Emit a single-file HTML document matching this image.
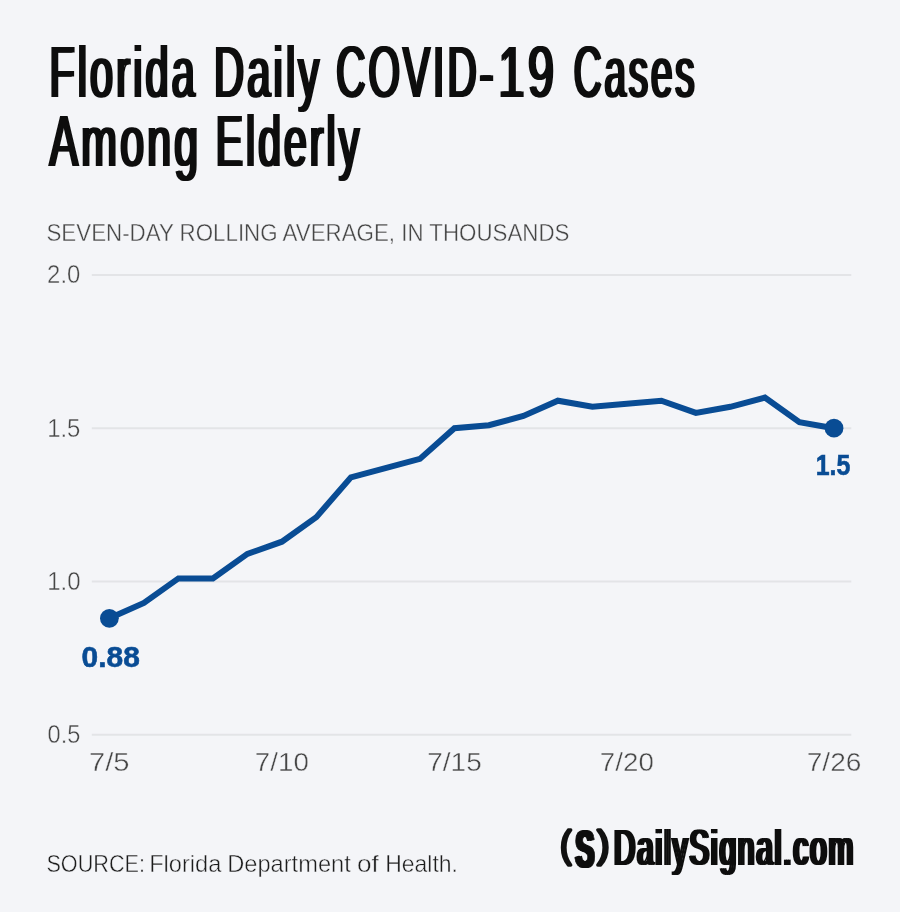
<!DOCTYPE html>
<html lang="en"><head><meta charset="utf-8"><title>Florida Daily COVID-19 Cases Among Elderly</title>
<style>
html,body{margin:0;padding:0;background:#f4f5f8;}
body{width:900px;height:912px;overflow:hidden;font-family:"Liberation Sans",sans-serif;}
svg{display:block}
text{font-family:"Liberation Sans",sans-serif}
.t{font-weight:400;fill:#111;font-size:72.5px;filter:url(#hx);letter-spacing:5.5px}
.sub{fill:#464646;font-size:24px;stroke:#f4f5f8;stroke-width:0.4px}
.ax{fill:#464646;font-size:25px;stroke:#f4f5f8;stroke-width:0.4px}
.src{fill:#1c1c1c;font-size:24px;stroke:#f4f5f8;stroke-width:0.45px}
.lbl{font-weight:700;fill:#094c94;stroke:#094c94;stroke-width:0.6px;font-size:29.2px}
.logo{font-weight:400;fill:#111;font-size:49.3px;filter:url(#hl);letter-spacing:3.5px}
.par{font-weight:400;fill:#111;stroke:#111;stroke-width:3.3px;stroke-linejoin:round;font-size:36px}
.bigs{font-weight:700;fill:#111;stroke:#111;stroke-width:1.2px;stroke-linejoin:round;font-size:51px;filter:url(#hs)}
</style></head>
<body>
<svg width="900" height="912" viewBox="0 0 900 912">
<defs>
<filter id="hx" x="-5%" y="-10%" width="110%" height="120%"><feOffset dx="1.5" result="a"/><feOffset in="SourceGraphic" dx="-1.5" result="b"/><feMerge><feMergeNode in="a"/><feMergeNode in="b"/><feMergeNode in="SourceGraphic"/></feMerge></filter>
<filter id="hs" x="-30%" y="-10%" width="160%" height="120%"><feOffset dx="1.5" result="a"/><feOffset in="SourceGraphic" dx="-1.5" result="b"/><feMerge><feMergeNode in="a"/><feMergeNode in="b"/><feMergeNode in="SourceGraphic"/></feMerge></filter>
<filter id="hl" x="-5%" y="-10%" width="110%" height="120%"><feOffset dx="1.7" result="a"/><feOffset in="SourceGraphic" dx="-1.7" result="b"/><feMerge><feMergeNode in="a"/><feMergeNode in="b"/><feMergeNode in="SourceGraphic"/></feMerge></filter>
</defs>
<rect width="900" height="912" fill="#f4f5f8"/>
<g stroke="#e3e4e7" stroke-width="1.9">
<line x1="91.8" x2="851.3" y1="275" y2="275"/>
<line x1="91.8" x2="851.3" y1="428.2" y2="428.2"/>
<line x1="91.8" x2="851.3" y1="581.5" y2="581.5"/>
<line x1="91.8" x2="851.3" y1="734.7" y2="734.7"/>
</g>
<polyline points="109.4,618.3 143.9,603.0 178.4,578.4 212.9,578.4 247.4,553.9 281.9,541.7 316.4,517.1 350.9,477.3 385.4,468.1 419.9,458.9 454.4,428.2 488.9,425.2 523.4,416.0 557.9,400.7 592.4,406.8 626.9,403.7 661.4,400.7 695.9,412.9 730.4,406.8 764.9,397.6 799.4,422.1 833.9,428.2" fill="none" stroke="#094c94" stroke-width="6" stroke-linejoin="miter" stroke-linecap="round"/>
<circle cx="109.4" cy="618.3" r="9.4" fill="#094c94"/>
<circle cx="834" cy="428.2" r="9.4" fill="#094c94"/>
<text class="t" y="97.2"><tspan id="t1" x="48.90" textLength="148.38" lengthAdjust="spacingAndGlyphs">Florida</tspan> <tspan id="t2" x="213.41" textLength="108.39" lengthAdjust="spacingAndGlyphs">Daily</tspan> <tspan id="t3" x="335.81" textLength="143.39" lengthAdjust="spacingAndGlyphs">COVID</tspan><tspan id="t3b" x="479.01" textLength="17.26" lengthAdjust="spacingAndGlyphs">-</tspan><tspan id="t3c" x="498.10" textLength="59.02" lengthAdjust="spacingAndGlyphs">19</tspan> <tspan id="t4" x="573.28" textLength="123.70" lengthAdjust="spacingAndGlyphs">Cases</tspan></text>
<text class="t" y="166.4"><tspan id="t5" x="49.10" textLength="151.70" lengthAdjust="spacingAndGlyphs">Among</tspan> <tspan id="t6" x="215.20" textLength="146.58" lengthAdjust="spacingAndGlyphs">Elderly</tspan></text>
<text id="sub" class="sub" x="46.47" y="241.3" textLength="522.99" lengthAdjust="spacingAndGlyphs">SEVEN-DAY ROLLING AVERAGE, IN THOUSANDS</text>
<text id="y20" class="ax" x="47.12" y="283.3" textLength="33.24" lengthAdjust="spacingAndGlyphs">2.0</text>
<text id="y15" class="ax" x="47.16" y="436.5" textLength="33.27" lengthAdjust="spacingAndGlyphs">1.5</text>
<text id="y10" class="ax" x="47.15" y="589.7" textLength="33.34" lengthAdjust="spacingAndGlyphs">1.0</text>
<text id="y05" class="ax" x="47.60" y="742.9" textLength="32.83" lengthAdjust="spacingAndGlyphs">0.5</text>
<text id="x5" class="ax" x="88.96" y="770.8" textLength="40.62" lengthAdjust="spacingAndGlyphs">7/5</text>
<text id="x10" class="ax" x="254.89" y="770.8" textLength="53.97" lengthAdjust="spacingAndGlyphs">7/10</text>
<text id="x15" class="ax" x="427.25" y="770.8" textLength="54.48" lengthAdjust="spacingAndGlyphs">7/15</text>
<text id="x20" class="ax" x="599.89" y="770.8" textLength="53.97" lengthAdjust="spacingAndGlyphs">7/20</text>
<text id="x26" class="ax" x="806.75" y="770.8" textLength="54.69" lengthAdjust="spacingAndGlyphs">7/26</text>
<text id="l088" class="lbl" x="81.61" y="666.6" textLength="58.16" lengthAdjust="spacingAndGlyphs">0.88</text>
<text id="l15" class="lbl" x="815.75" y="475.4" textLength="34.63" lengthAdjust="spacingAndGlyphs">1.5</text>
<text class="src" y="872"><tspan id="s1" x="46.44" textLength="98.55" lengthAdjust="spacingAndGlyphs">SOURCE:</tspan> <tspan id="s2" x="149.18" textLength="72.23" lengthAdjust="spacingAndGlyphs">Florida</tspan> <tspan id="s3" x="227.17" textLength="123.61" lengthAdjust="spacingAndGlyphs">Department</tspan> <tspan id="s4" x="356.94" textLength="21.85" lengthAdjust="spacingAndGlyphs">of</tspan> <tspan id="s5" x="385.19" textLength="72.72" lengthAdjust="spacingAndGlyphs">Health.</tspan></text>
<text id="lg" class="logo" x="613.95" y="865.3" textLength="241.19" lengthAdjust="spacingAndGlyphs">DailySignal.com</text>
<text id="p1" class="par" x="560.18" y="857.3" textLength="10.86" lengthAdjust="spacingAndGlyphs">(</text>
<text id="ps" class="bigs" x="574.99" y="867.2" textLength="18.83" lengthAdjust="spacingAndGlyphs">S</text>
<text id="p2" class="par" x="597.51" y="857.3" textLength="11.82" lengthAdjust="spacingAndGlyphs">)</text>
</svg>
</body></html>
